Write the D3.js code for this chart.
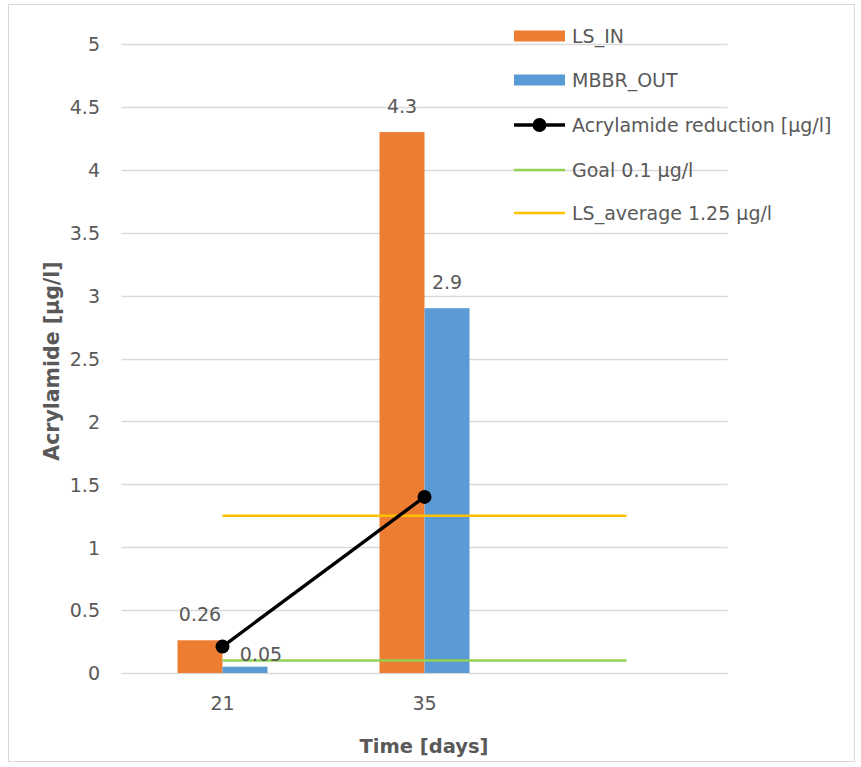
<!DOCTYPE html>
<html><head><meta charset="utf-8">
<script src="https://cdn.jsdelivr.net/npm/d3@7"></script>
<style>body{margin:0;background:#fff}svg{display:block}text{font-family:"DejaVu Sans",sans-serif}</style>
</head><body>
<script>
const categories = ["21", "35", ""];
const lsIn = [0.26, 4.3, null];
const mbbrOut = [0.05, 2.9, null];
const reduction = [0.21, 1.4, null];
const goal = [0.1, 0.1, 0.1];
const lsAverage = [1.25, 1.25, 1.25];
const yTicks = [0, 0.5, 1, 1.5, 2, 2.5, 3, 3.5, 4, 4.5, 5];
const legendLabels = ["LS_IN", "MBBR_OUT", "Acrylamide reduction [µg/l]", "Goal 0.1 µg/l", "LS_average 1.25 µg/l"];

const W = 861, H = 767;
const m = {left: 121.5, right: 727.5, top: 44, bottom: 673};
const svg = d3.select("body").append("svg").attr("width", W).attr("height", H);
svg.append("rect").attr("x", 8.5).attr("y", 4.5).attr("width", 846).attr("height", 757)
  .attr("fill", "#fff").attr("stroke", "#d9d9d9");

const x = d3.scaleBand().domain(d3.range(categories.length)).range([m.left, m.right]).padding(0);
const y = d3.scaleLinear().domain([0, 5]).range([m.bottom, m.top]);
const bw = x.bandwidth() * 45 / 202;
const cx = i => x(i) + x.bandwidth() / 2;
const grey = "#595959";
const fs = "19px";

// gridlines
svg.append("g").selectAll("line").data(yTicks).join("line")
  .attr("x1", m.left).attr("x2", m.right)
  .attr("y1", d => Math.round(y(d)) + 0.5).attr("y2", d => Math.round(y(d)) + 0.5)
  .attr("stroke", "#d9d9d9").attr("stroke-width", 1.4);

// y axis labels
const yAxis = d3.axisLeft(y).tickValues(yTicks).tickSize(0).tickPadding(0).tickFormat(d3.format("~g"));
const ga = svg.append("g").attr("transform", `translate(100,0)`).call(yAxis);
ga.select(".domain").remove();
ga.selectAll("text").attr("fill", grey).style("font-size", fs).attr("dy", "0.36em");

// x axis labels
const xa = svg.append("g").attr("transform", `translate(0,${m.bottom})`)
  .call(d3.axisBottom(x).tickSize(0).tickPadding(0).tickFormat(i => categories[i]));
xa.select(".domain").remove();
xa.selectAll("text").attr("fill", grey).style("font-size", fs).attr("dy", 0).attr("y", 37);

// bars
const barData = [];
lsIn.forEach((v, i) => { if (v != null) barData.push({i, v, off: -bw, c: "#ED7D31"}); });
mbbrOut.forEach((v, i) => { if (v != null) barData.push({i, v, off: 0, c: "#5B9BD5"}); });
svg.append("g").selectAll("rect").data(barData).join("rect")
  .attr("x", d => cx(d.i) + d.off).attr("width", bw)
  .attr("y", d => y(d.v)).attr("height", d => y(0) - y(d.v))
  .attr("fill", d => d.c);

// horizontal lines
const lineGen = d3.line().defined(d => d.v != null).x(d => cx(d.i)).y(d => y(d.v));
const toPts = arr => arr.map((v, i) => ({i, v}));
svg.append("path").datum(toPts(goal)).attr("d", lineGen).attr("fill", "none")
  .attr("stroke", "#92D050").attr("stroke-width", 2.5);
svg.append("path").datum(toPts(lsAverage)).attr("d", lineGen).attr("fill", "none")
  .attr("stroke", "#FFC000").attr("stroke-width", 2.5);
svg.append("path").datum(toPts(reduction)).attr("d", lineGen).attr("fill", "none")
  .attr("stroke", "#000").attr("stroke-width", 3.4);
svg.append("g").selectAll("circle").data(toPts(reduction).filter(d => d.v != null)).join("circle")
  .attr("cx", d => cx(d.i)).attr("cy", d => y(d.v)).attr("r", 7).attr("fill", "#000");

// data labels (the small MBBR_OUT label was moved aside in the original)
const labelShift = (d) => (d.off === 0 && d.i === 0) ? [16, 13] : [0, 0];
svg.append("g").selectAll("text").data(barData).join("text")
  .attr("x", d => cx(d.i) + d.off + bw / 2 + labelShift(d)[0])
  .attr("y", d => y(d.v) - 19 + labelShift(d)[1])
  .attr("text-anchor", "middle").attr("fill", grey).style("font-size", fs)
  .text(d => d3.format("~g")(d.v));

// axis titles
svg.append("text").attr("transform", `translate(59,361) rotate(-90)`)
  .attr("text-anchor", "middle").attr("fill", grey).style("font-size", "20.5px").style("font-weight", "bold")
  .text("Acrylamide [µg/l]");
svg.append("text").attr("x", 424).attr("y", 753)
  .attr("text-anchor", "middle").attr("fill", grey).style("font-size", "19.5px").style("font-weight", "bold")
  .text("Time [days]");

// legend
const legY = [36, 80, 125, 170, 213];
const lg = svg.append("g");
legendLabels.forEach((lab, k) => {
  const g = lg.append("g").attr("transform", `translate(514,${legY[k]})`);
  if (k === 0 || k === 1) {
    g.append("rect").attr("x", 0).attr("y", -5.5).attr("width", 51).attr("height", 11)
      .attr("fill", k === 0 ? "#ED7D31" : "#5B9BD5");
  } else {
    const col = k === 2 ? "#000" : (k === 3 ? "#92D050" : "#FFC000");
    g.append("line").attr("x1", 0).attr("x2", 51).attr("y1", 0).attr("y2", 0)
      .attr("stroke", col).attr("stroke-width", k === 2 ? 3.4 : 2.5);
    if (k === 2) g.append("circle").attr("cx", 25.5).attr("cy", 0).attr("r", 7).attr("fill", "#000");
  }
  g.append("text").attr("x", 58).attr("y", 0).attr("dy", "0.36em").attr("fill", grey)
    .style("font-size", fs).text(lab);
});
</script>
</body></html>
